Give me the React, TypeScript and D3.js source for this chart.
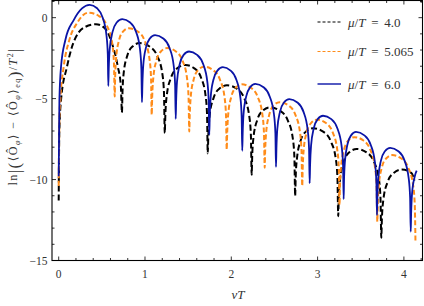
import React from 'react'
import * as d3 from 'd3'

const W = 424
const H = 306

// tick labels
const xTicks = [0, 1, 2, 3, 4]
const yTicks = [0, -5, -10, -15]

// mu/T values shown in the legend
const seriesLabels = ['4.0', '5.065', '6.0']

// [vT, ln|...|]
const mu40: [number, number][] = [
  [0, -11.3], [0.003, -9.0], [0.007, -7.12], [0.027, -5.08], [0.096, -3.03], [0.154, -1.8], [0.224, -0.97], [0.308, -0.57], [0.432, -0.4],
  [0.54, -0.68], [0.615, -1.55], [0.684, -3.0], [0.72, -4.2], [0.733, -5.86],
  [0.739, -4.63], [0.753, -3.43], [0.794, -2.36], [0.855, -1.78], [0.936, -1.57], [1.053, -1.78], [1.141, -2.36], [1.2, -3.43], [1.22, -4.63], [1.229, -7.13],
  [1.236, -5.98], [1.253, -4.78], [1.301, -3.71], [1.373, -3.13], [1.469, -2.92], [1.572, -3.13], [1.65, -3.71], [1.701, -4.78], [1.719, -5.98], [1.727, -8.38],
  [1.734, -7.24], [1.749, -6.04], [1.794, -4.97], [1.861, -4.39], [1.95, -4.18], [2.064, -4.39], [2.15, -4.97], [2.207, -6.04], [2.227, -7.24], [2.236, -9.71],
  [2.242, -8.6], [2.257, -7.4], [2.3, -6.33], [2.364, -5.75], [2.449, -5.54], [2.565, -5.75], [2.653, -6.33], [2.711, -7.4], [2.731, -8.6], [2.74, -11.02],
  [2.746, -9.89], [2.761, -8.69], [2.802, -7.62], [2.864, -7.04], [2.947, -6.83], [3.064, -7.04], [3.151, -7.62], [3.21, -8.69], [3.23, -9.89], [3.239, -12.26],
  [3.245, -11.17], [3.26, -9.97], [3.303, -8.9], [3.367, -8.32], [3.453, -8.11], [3.567, -8.32], [3.653, -8.9], [3.71, -9.97], [3.729, -11.17], [3.738, -13.59],
  [3.745, -12.44], [3.762, -11.24], [3.81, -10.17], [3.882, -9.59], [3.978, -9.38], [4.086, -9.59], [4.123, -10.06],
]

const mu5065: [number, number][] = [
  [0, -10.39], [0.004, -8.0], [0.008, -6.4], [0.019, -5.08], [0.058, -3.03], [0.123, -1.38], [0.212, -0.34], [0.345, 0.31],
  [0.467, 0.1], [0.558, -0.48], [0.619, -1.55], [0.64, -2.75], [0.649, -4.87],
  [0.654, -3.71], [0.665, -2.51], [0.697, -1.44], [0.745, -0.86], [0.809, -0.65], [0.917, -0.86], [0.997, -1.44], [1.051, -2.51], [1.07, -3.71], [1.078, -6.0],
  [1.083, -4.94], [1.096, -3.74], [1.131, -2.67], [1.184, -2.09], [1.255, -1.88], [1.358, -2.09], [1.436, -2.67], [1.487, -3.74], [1.505, -4.94], [1.513, -7.03],
  [1.518, -6.09], [1.53, -4.89], [1.564, -3.82], [1.616, -3.24], [1.684, -3.03], [1.789, -3.24], [1.868, -3.82], [1.921, -4.89], [1.939, -6.09], [1.947, -8.15],
  [1.952, -7.18], [1.964, -5.98], [1.999, -4.91], [2.051, -4.33], [2.121, -4.12], [2.227, -4.33], [2.307, -4.91], [2.36, -5.98], [2.379, -7.18], [2.387, -9.27],
  [2.392, -8.28], [2.404, -7.08], [2.439, -6.01], [2.49, -5.43], [2.559, -5.22], [2.664, -5.43], [2.743, -6.01], [2.796, -7.08], [2.814, -8.28], [2.822, -10.4],
  [2.827, -9.36], [2.839, -8.16], [2.873, -7.09], [2.924, -6.51], [2.992, -6.3], [3.097, -6.51], [3.175, -7.09], [3.228, -8.16], [3.246, -9.36], [3.254, -11.56],
  [3.259, -10.44], [3.271, -9.24], [3.306, -8.17], [3.357, -7.59], [3.426, -7.38], [3.532, -7.59], [3.612, -8.17], [3.665, -9.24], [3.684, -10.44], [3.692, -12.6],
  [3.697, -11.55], [3.709, -10.35], [3.743, -9.28], [3.794, -8.7], [3.862, -8.49], [3.971, -8.7], [4.052, -9.28], [4.107, -10.35], [4.126, -11.55], [4.134, -13.8],
]

const mu60: [number, number][] = [
  [0, -9.8], [0.004, -7.5], [0.008, -5.1], [0.027, -3.03], [0.077, -1.38], [0.174, -0.15], [0.27, 0.57], [0.359, 0.79],
  [0.445, 0.58], [0.51, 0.0], [0.553, -1.07], [0.569, -2.27], [0.575, -4.22],
  [0.58, -3.15], [0.591, -1.95], [0.624, -0.88], [0.672, -0.3], [0.737, -0.09], [0.828, -0.3], [0.897, -0.88], [0.942, -1.95], [0.958, -3.15], [0.965, -5.22],
  [0.97, -4.14], [0.98, -2.94], [1.01, -1.87], [1.056, -1.29], [1.116, -1.08], [1.212, -1.29], [1.284, -1.87], [1.332, -2.94], [1.349, -4.14], [1.356, -6.25],
  [1.361, -5.15], [1.371, -3.95], [1.402, -2.88], [1.448, -2.3], [1.51, -2.09], [1.604, -2.3], [1.675, -2.88], [1.722, -3.95], [1.738, -5.15], [1.745, -7.23],
  [1.75, -6.12], [1.761, -4.92], [1.792, -3.85], [1.839, -3.27], [1.902, -3.06], [1.992, -3.27], [2.06, -3.85], [2.105, -4.92], [2.12, -6.12], [2.127, -8.22],
  [2.132, -7.15], [2.142, -5.95], [2.172, -4.88], [2.218, -4.3], [2.278, -4.09], [2.374, -4.3], [2.446, -4.88], [2.494, -5.95], [2.511, -7.15], [2.518, -9.22],
  [2.523, -8.09], [2.533, -6.89], [2.564, -5.82], [2.61, -5.24], [2.672, -5.03], [2.766, -5.24], [2.837, -5.82], [2.884, -6.89], [2.901, -8.09], [2.908, -10.23],
  [2.913, -9.12], [2.924, -7.92], [2.955, -6.85], [3.001, -6.27], [3.063, -6.06], [3.159, -6.27], [3.23, -6.85], [3.278, -7.92], [3.295, -9.12], [3.302, -11.21],
  [3.306, -10.12], [3.316, -8.92], [3.345, -7.85], [3.388, -7.27], [3.445, -7.06], [3.542, -7.27], [3.615, -7.85], [3.664, -8.92], [3.681, -10.12], [3.688, -12.2],
  [3.693, -11.1], [3.703, -9.9], [3.734, -8.83], [3.78, -8.25], [3.841, -8.04], [3.936, -8.25], [4.008, -8.83], [4.055, -9.9], [4.072, -11.1], [4.079, -13.22],
  [4.084, -12.1], [4.094, -10.9], [4.124, -9.84], [4.148, -9.45],
]

const series = [mu40, mu5065, mu60]
const colors = ['#000000', '#ff8c1a', '#0a14a6']
const dashes = ['6,3', '5,2.6', undefined]
const widths = [2, 2, 1.8]
const legendDash = ['3,2', '3,2', undefined]

const serif = "'Liberation Serif', 'DejaVu Serif', serif"

export default function App() {
  const left = 52, right = 422.5, top = 0.5, bottom = 260.5
  const x = d3.scaleLinear().domain([-0.0776, 4.2156]).range([left, right])
  const y = d3.scaleLinear().domain([-15, 1.06]).range([bottom, top])
  const line = d3.line<[number, number]>()
    .x(d => x(d[0]))
    .y(d => y(d[1]))
    .curve(d3.curveMonotoneX)

  const xMinor = d3.range(0, 4.21, 0.2).filter(v => Math.abs(v - Math.round(v)) > 0.01)
  const yMinor = d3.range(-15, 1.01, 1).filter(v => v % 5 !== 0)
  const major = 4, minor = 2.5

  return (
    <div style={{ position: 'fixed', left: 0, top: 0, width: W, height: H, background: '#fff' }}>
      <svg width={W} height={H} style={{ display: 'block' }}>
        <defs>
          <clipPath id="plotArea">
            <rect x={left} y={top} width={right - left} height={bottom - top} />
          </clipPath>
        </defs>

        <g clipPath="url(#plotArea)">
          {series.map((s, i) => (
            <path
              key={i}
              d={line(s) || ''}
              fill="none"
              stroke={colors[i]}
              strokeWidth={widths[i]}
              strokeDasharray={dashes[i]}
            />
          ))}
        </g>

        {/* ticks */}
        <g stroke="#000" strokeWidth={0.8}>
          {xTicks.map(v => (
            <g key={'xM' + v}>
              <line x1={x(v)} x2={x(v)} y1={bottom} y2={bottom - major} />
              <line x1={x(v)} x2={x(v)} y1={top} y2={top + major} />
            </g>
          ))}
          {xMinor.map(v => (
            <g key={'xm' + v}>
              <line x1={x(v)} x2={x(v)} y1={bottom} y2={bottom - minor} />
              <line x1={x(v)} x2={x(v)} y1={top} y2={top + minor} />
            </g>
          ))}
          {yTicks.map(v => (
            <g key={'yM' + v}>
              <line x1={left} x2={left + major} y1={y(v)} y2={y(v)} />
              <line x1={right} x2={right - major} y1={y(v)} y2={y(v)} />
            </g>
          ))}
          {yMinor.map(v => (
            <g key={'ym' + v}>
              <line x1={left} x2={left + minor} y1={y(v)} y2={y(v)} />
              <line x1={right} x2={right - minor} y1={y(v)} y2={y(v)} />
            </g>
          ))}
        </g>

        <rect x={left} y={top} width={right - left} height={bottom - top} fill="none" stroke="#000" strokeWidth={1.1} />

        {/* tick labels */}
        <g fontFamily={serif} fontSize={11.5} fill="#333">
          {xTicks.map(v => (
            <text key={'xl' + v} x={x(v)} y={277.5} textAnchor="middle">{v}</text>
          ))}
          {yTicks.map(v => (
            <text key={'yl' + v} x={47.5} y={y(v) + 4} textAnchor="end">
              {v < 0 ? '\u2212' + Math.abs(v) : v}
            </text>
          ))}
        </g>

        {/* axis labels */}
        <text x={238} y={298.5} textAnchor="middle" fontFamily={serif} fontSize={13} fontStyle="italic" fill="#333">vT</text>

        <text
          transform="translate(17,117) rotate(-90)"
          textAnchor="middle"
          fontFamily={serif}
          fontSize={12}
          fill="#333"
          textLength={137}
          lengthAdjust="spacing"
        >
          <tspan>ln</tspan>
          <tspan fontSize={17} dy={2.5}>|(</tspan>
          <tspan dy={-2.5}>{'\u27E8'}Ô</tspan>
          <tspan fontSize={8} dy={2.5} fontStyle="italic">φ</tspan>
          <tspan dy={-2.5}>{'\u27E9 \u2212 \u27E8'}Ô</tspan>
          <tspan fontSize={8} dy={2.5} fontStyle="italic">φ</tspan>
          <tspan dy={-2.5}>{'\u27E9'}</tspan>
          <tspan fontSize={8} dy={2.5}>eq</tspan>
          <tspan fontSize={17} dy={0}>)</tspan>
          <tspan dy={-2.5}>/</tspan>
          <tspan fontStyle="italic">T</tspan>
          <tspan fontSize={8} dy={-4.5}>2</tspan>
          <tspan fontSize={17} dy={7}>|</tspan>
        </text>

        {/* legend */}
        {seriesLabels.map((lab, i) => {
          const ly = [22, 51.5, 84][i]
          return (
            <g key={'lg' + i}>
              <line
                x1={317.5}
                x2={341}
                y1={ly}
                y2={ly}
                stroke={colors[i]}
                strokeWidth={i === 2 ? 1.4 : 1.1}
                strokeDasharray={legendDash[i]}
              />
              <text x={348} y={ly + 4.5} fontFamily={serif} fontSize={13} wordSpacing={2.5} fill="#333">
                <tspan fontStyle="italic">μ</tspan>/<tspan fontStyle="italic">T</tspan>
                {' = ' + lab}
              </text>
            </g>
          )
        })}
      </svg>
    </div>
  )
}
